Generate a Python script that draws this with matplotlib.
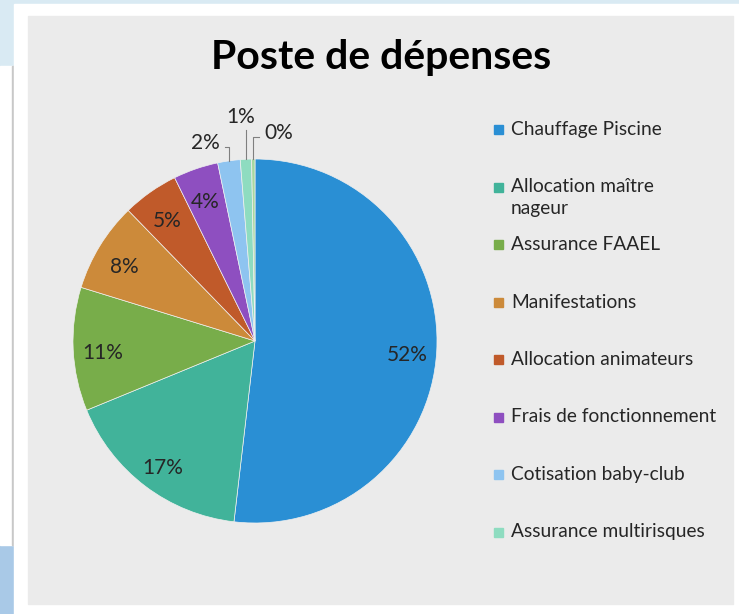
import matplotlib.pyplot as plt
import matplotlib.patches as mpatches
import numpy as np

# donnees du graphique
postes = ["Chauffage Piscine", "Allocation maître\nnageur", "Assurance FAAEL",
          "Manifestations", "Allocation animateurs", "Frais de fonctionnement",
          "Cotisation baby-club", "Assurance multirisques", "Autre"]
valeurs = [52, 17, 11, 8, 5, 4, 2, 1, 0.3]
couleurs = ["#2a8fd4", "#41b39a", "#78ad4a", "#cc8a3a", "#c05a2a",
            "#8e4fc0", "#8ec4f0", "#8edcc0", "#a8d8a0"]
n_legende = 8  # la derniere part n'apparait pas dans la legende

W, H = 739, 614
fig = plt.figure(figsize=(W / 100, H / 100), dpi=100)
fig.patch.set_facecolor("white")

# decor de la capture (fond bleu, cadre blanc, panneau gris)
def rect_px(x0, y0, x1, y1, z=-10, **kw):
    fig.patches.append(mpatches.Rectangle((x0 / W, 1 - y1 / H), (x1 - x0) / W, (y1 - y0) / H,
                                          transform=fig.transFigure, zorder=z, **kw))

rect_px(0, 0, W, 20, color="#d9eaf3")
rect_px(0, 0, 14, 66, color="#d9eaf3")
rect_px(0, 545, 14, H, color="#a9c9e7")
rect_px(0, 66, 13, 545, color="white")
rect_px(12, 66, 14, 545, color="#c8c8c8")
rect_px(14, 4, W, H, color="white")
rect_px(28, 16, 733, 604, color="#ebebeb")

police = "Lato"

fig.text(381 / W, 1 - 58 / H, "Poste de dépenses", ha="center", va="center",
         fontsize=29.5, fontweight="bold", family=police, color="black")

# camembert : centre (255, 341) px, rayon 182 px
cx, cy, r = 255, 341, 182
lim = 1.3
side = 2 * lim * r
ax = fig.add_axes([(cx - side / 2) / W, (H - cy - side / 2) / H, side / W, side / H])

total = sum(valeurs)
wedges, _ = ax.pie(valeurs, colors=couleurs, startangle=90, counterclock=False,
                   radius=1, wedgeprops=dict(linewidth=0.5, edgecolor="#f0f0f0"))
ax.set_xlim(-lim, lim)
ax.set_ylim(-lim, lim)
ax.set_aspect("equal")
ax.axis("off")

# etiquettes interieures et exterieures
pos_ext = {6: (-0.275, 1.088), 7: (-0.077, 1.23), 8: (0.132, 1.143)}
for i, w in enumerate(wedges):
    pct = "%d%%" % round(valeurs[i] / total * 100)
    ang = np.deg2rad((w.theta1 + w.theta2) / 2)
    if i in pos_ext:
        lx, ly = pos_ext[i]
        ex, ey = np.cos(ang), np.sin(ang)
        ax.text(lx, ly, pct, ha="center", va="center", fontsize=15, family=police, color="#262626")
        if i == 7:
            ax.plot([ex, ex], [ey, ly - 0.07], color="#7f7f7f", lw=0.8)
        else:
            cote = 1 if lx < ex else -1
            bord = lx + cote * 0.11
            ax.plot([bord, ex, ex], [ly - 0.02, ly - 0.02, ey], color="#7f7f7f", lw=0.8)
    else:
        ax.text(0.84 * np.cos(ang), 0.84 * np.sin(ang) - 0.03, pct, ha="center", va="center",
                fontsize=15, family=police, color="#262626")

# legende dessinee a la main
y0, pas = 130, 57.5
for i in range(n_legende):
    y = y0 + i * pas
    rect_px(494, y - 5, 503, y + 4, z=2, color=couleurs[i])
    fig.text(511 / W, 1 - (y - 9) / H, postes[i], ha="left", va="top", fontsize=13.8,
             family=police, color="#262626", linespacing=1.3)

fig.savefig("out.png", dpi=100)
